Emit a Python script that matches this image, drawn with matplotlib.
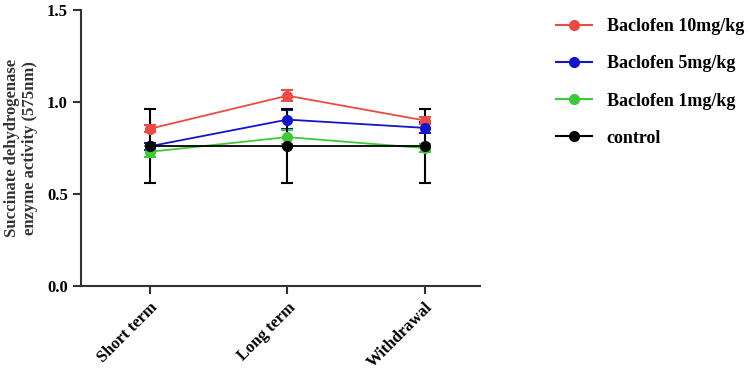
import matplotlib
matplotlib.use("Agg")
import matplotlib.pyplot as plt
from matplotlib.lines import Line2D

plt.rcParams['font.family'] = ['Liberation Serif', 'DejaVu Serif']
plt.rcParams['font.weight'] = 'bold'

categories = ["Short term", "Long term", "Withdrawal"]
series_names = ["Baclofen 10mg/kg", "Baclofen 5mg/kg", "Baclofen 1mg/kg", "control"]
red_vals = [0.855, 1.035, 0.90]
red_err = [0.02, 0.03, 0.02]
blue_vals = [0.76, 0.905, 0.86]
blue_err = [0.02, 0.05, 0.03]
green_vals = [0.73, 0.81, 0.75]
green_err = [0.03, 0.04, 0.02]
control_vals = [0.76, 0.76, 0.76]
control_err = [0.20, 0.20, 0.20]

colors = ["#ec4a44", "#1414c8", "#3ec83a", "#000000"]

fig = plt.figure(figsize=(7.5, 3.75), dpi=100)
ax = fig.add_axes([0.108, 0.237, 0.532, 0.736])

x = range(len(categories))
handles = []
for vals, err, col, name in zip([red_vals, blue_vals, green_vals, control_vals],
                                [red_err, blue_err, green_err, control_err],
                                colors, series_names):
    ax.errorbar(x, vals, yerr=err, color=col, marker='o', markersize=7,
                linewidth=1.3, capsize=4, elinewidth=1.5, capthick=1.5)
    handles.append(Line2D([], [], color=col, marker='o', markersize=7,
                          linewidth=1.5, label=name))

ax.set_xlim(-0.5, 2.4)
ax.set_ylim(0, 1.5)
ax.set_yticks([0.0, 0.5, 1.0, 1.5])
ax.set_yticklabels(["0.0", "0.5", "1.0", "1.5"], fontsize=12, fontweight='bold')
ax.set_xticks(list(x))
ax.set_xticklabels(categories, rotation=45, ha='right', rotation_mode='anchor',
                   fontsize=12, fontweight='bold')
ax.set_ylabel("Succinate dehydrogenase\nenzyme activity (575nm)", fontsize=12,
              fontweight='bold', color='#333333', labelpad=6)
ax.spines['top'].set_visible(False)
ax.spines['right'].set_visible(False)
for s in ['left', 'bottom']:
    ax.spines[s].set_linewidth(1.5)
    ax.spines[s].set_color('#333333')
ax.tick_params(width=1.5, length=6, color='#333333')

ax.legend(handles=handles, loc='upper left', bbox_to_anchor=(1.15, 1.03), frameon=False,
          labelspacing=1.12, handlelength=2.0, handletextpad=0.8,
          prop={'weight': 'bold', 'size': 13})

fig.savefig("out.png", dpi=100)
